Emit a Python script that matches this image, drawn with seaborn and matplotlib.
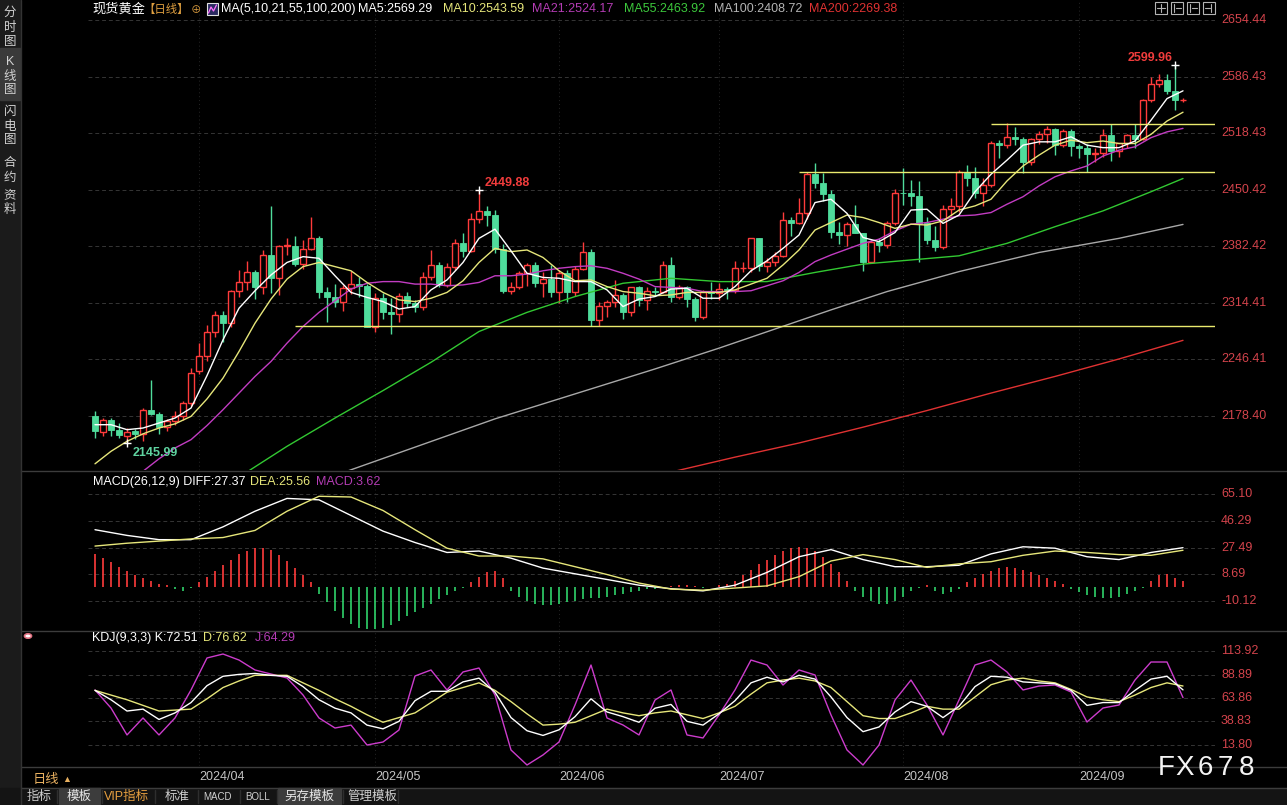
import pandas as pd
import matplotlib
matplotlib.use("Agg")
import matplotlib.pyplot as plt
import matplotlib.transforms as mtransforms
from matplotlib.patches import Rectangle, Circle
from matplotlib.lines import Line2D
import seaborn as sns

sns.set_theme(style="dark")
plt.rcParams['font.family'] = ['Liberation Sans', 'Noto Sans CJK SC', 'DejaVu Sans']
plt.rcParams['axes.unicode_minus'] = False

# ---------------------------------------------------------------- data
trade_dates = pd.bdate_range("2024-03-12", "2024-09-19").drop(pd.Timestamp("2024-03-29"))
month_labels = ["2024/04", "2024/05", "2024/06", "2024/07", "2024/08", "2024/09"]

opens = [2179, 2159, 2174, 2162, 2155, 2160, 2157, 2186, 2181, 2165,
         2172, 2178, 2194, 2233, 2251, 2280, 2300, 2290, 2329, 2339,
         2352, 2333, 2372, 2344, 2383, 2383, 2361, 2379, 2392, 2327,
         2322, 2316, 2332, 2337, 2335, 2286, 2320, 2303, 2301, 2323,
         2314, 2309, 2346, 2360, 2336, 2358, 2386, 2377, 2415, 2425,
         2420, 2379, 2329, 2334, 2350, 2360, 2338, 2343, 2327, 2350,
         2327, 2355, 2375, 2294, 2311, 2316, 2324, 2303, 2333, 2318,
         2329, 2328, 2360, 2321, 2334, 2319, 2298, 2327, 2326, 2331,
         2330, 2356, 2356, 2392, 2359, 2364, 2371, 2414, 2411, 2422,
         2469, 2459, 2445, 2400, 2396, 2409, 2398, 2364, 2387, 2384,
         2411, 2447, 2446, 2443, 2410, 2390, 2382, 2427, 2431, 2472,
         2465, 2447, 2456, 2507, 2504, 2514, 2512, 2484, 2512, 2518,
         2524, 2504, 2521, 2503, 2500, 2493, 2495, 2516, 2497, 2506,
         2516, 2512, 2558, 2578, 2582, 2569, 2558]
highs = [2184, 2176, 2176, 2170, 2164, 2163, 2188, 2222, 2183, 2175,
         2185, 2197, 2236, 2266, 2288, 2305, 2305, 2330, 2354, 2365,
         2354, 2378, 2431, 2384, 2392, 2395, 2390, 2418, 2395, 2333,
         2337, 2336, 2353, 2346, 2337, 2326, 2326, 2320, 2326, 2327,
         2318, 2351, 2378, 2364, 2362, 2391, 2398, 2422, 2449.88, 2431,
         2426, 2385, 2340, 2353, 2362, 2364, 2352, 2360, 2354, 2354,
         2359, 2388, 2379, 2315, 2318, 2342, 2326, 2333, 2335, 2333,
         2334, 2365, 2369, 2336, 2335, 2321, 2330, 2339, 2338, 2334,
         2365, 2364, 2393, 2393, 2368, 2375, 2424, 2418, 2440, 2472,
         2483, 2470, 2450, 2412, 2412, 2432, 2399, 2390, 2392, 2413,
         2451, 2477, 2462, 2461, 2418, 2407, 2432, 2440, 2474, 2480,
         2478, 2464, 2509, 2510, 2531, 2526, 2514, 2513, 2521, 2527,
         2525, 2524, 2523, 2505, 2505, 2500, 2523, 2529, 2507, 2518,
         2530, 2560, 2586, 2590, 2590, 2599.96, 2561]
lows = [2152, 2155, 2155, 2152, 2145.99, 2151, 2148, 2180, 2157, 2160,
        2168, 2174, 2190, 2229, 2244, 2273, 2267, 2286, 2321, 2330,
        2319, 2325, 2326, 2324, 2372, 2359, 2355, 2378, 2320, 2291,
        2309, 2305, 2325, 2322, 2285, 2280, 2295, 2277, 2291, 2310,
        2303, 2306, 2342, 2334, 2333, 2354, 2370, 2375, 2410, 2407,
        2374, 2326, 2325, 2331, 2335, 2333, 2322, 2322, 2314, 2315,
        2323, 2354, 2287, 2287, 2297, 2309, 2295, 2299, 2311, 2306,
        2323, 2326, 2316, 2319, 2309, 2293, 2295, 2319, 2318, 2319,
        2326, 2351, 2352, 2353, 2352, 2359, 2370, 2395, 2409, 2415,
        2453, 2437, 2393, 2385, 2383, 2398, 2353, 2363, 2376, 2380,
        2408, 2432, 2431, 2364, 2385, 2377, 2379, 2419, 2424, 2455,
        2440, 2431, 2454, 2488, 2500, 2504, 2470, 2480, 2505, 2506,
        2492, 2502, 2491, 2489, 2472, 2484, 2490, 2485, 2490, 2500,
        2500, 2510, 2556, 2574, 2566, 2546, 2556]
closes = [2160, 2174, 2162, 2156, 2159, 2157, 2186, 2181, 2165, 2172,
          2178, 2194, 2230, 2251, 2280, 2300, 2290, 2329, 2339, 2352,
          2333, 2372, 2344, 2383, 2383, 2361, 2379, 2392, 2327, 2322,
          2316, 2332, 2337, 2335, 2286, 2320, 2303, 2301, 2323, 2314,
          2309, 2346, 2360, 2336, 2358, 2386, 2377, 2415, 2425, 2420,
          2379, 2329, 2334, 2350, 2360, 2338, 2343, 2327, 2350, 2327,
          2355, 2375, 2294, 2311, 2316, 2324, 2303, 2333, 2318, 2329,
          2328, 2360, 2321, 2334, 2319, 2298, 2327, 2326, 2331, 2330,
          2356, 2356, 2392, 2359, 2364, 2371, 2414, 2411, 2422, 2469,
          2459, 2445, 2400, 2396, 2409, 2398, 2364, 2387, 2384, 2411,
          2447, 2446, 2443, 2410, 2390, 2382, 2427, 2431, 2472, 2465,
          2447, 2456, 2507, 2504, 2514, 2512, 2484, 2512, 2518, 2524,
          2504, 2521, 2503, 2500, 2493, 2495, 2516, 2497, 2506, 2516,
          2512, 2558, 2578, 2582, 2569, 2558, 2558]

ma_even_idx = list(range(0, 137, 2))
ma5 = [2168, 2168, 2162, 2164, 2170, 2176, 2188, 2227, 2270, 2308,
       2329, 2348, 2363, 2370, 2368, 2347, 2327, 2321, 2316, 2307,
       2310, 2330, 2342, 2363, 2392, 2403, 2377, 2350, 2345, 2344,
       2340, 2340, 2330, 2310, 2319, 2322, 2331, 2332, 2320, 2320,
       2334, 2353, 2365, 2380, 2396, 2435, 2439, 2422, 2393, 2388,
       2399, 2426, 2427, 2410, 2420, 2448, 2469, 2486, 2504, 2508,
       2508, 2514, 2504, 2501, 2501, 2509, 2534, 2560, 2569.29]
ma10 = [2121, 2136, 2148, 2157, 2164, 2169, 2178, 2199, 2224, 2256,
        2290, 2319, 2343, 2358, 2363, 2358, 2353, 2339, 2327, 2318,
        2316, 2320, 2327, 2341, 2363, 2380, 2376, 2378, 2369, 2353,
        2341, 2342, 2334, 2328, 2326, 2323, 2324, 2327, 2327, 2327,
        2330, 2337, 2344, 2360, 2378, 2402, 2411, 2420, 2417, 2411,
        2404, 2409, 2408, 2413, 2426, 2431, 2439, 2461, 2479, 2492,
        2504, 2510, 2507, 2509, 2506, 2506, 2517, 2533, 2543.59]
ma21_idx = list(range(6, 137, 2))
ma21 = [2112, 2127, 2140, 2150, 2167, 2186, 2206, 2226, 2244, 2266,
        2286, 2303, 2317, 2331, 2338, 2340, 2340, 2337, 2337, 2335,
        2336, 2339, 2347, 2347, 2349, 2353, 2356, 2358, 2359, 2356,
        2350, 2343, 2334, 2333, 2332, 2328, 2328, 2328, 2329, 2335,
        2341, 2351, 2364, 2372, 2379, 2386, 2391, 2401, 2409, 2411,
        2415, 2419, 2420, 2423, 2433, 2442, 2455, 2466, 2473, 2479,
        2491, 2498, 2502, 2513, 2520, 2524.17]
ma55_idx = [18, 24, 30, 36, 42, 48, 54, 60, 66, 72, 78, 84, 90, 96, 102, 108, 114, 120, 126, 132, 136]
ma55 = [2105, 2142, 2176, 2209, 2243, 2280, 2303, 2322, 2338, 2344, 2340,
        2340, 2351, 2361, 2366, 2371, 2386, 2406, 2425, 2448, 2463.92]
ma100_idx = [30, 40, 50, 60, 70, 78, 85, 92, 99, 108, 118, 128, 136]
ma100 = [2107, 2141, 2175, 2205, 2235, 2260, 2283, 2306, 2328, 2352, 2375, 2392, 2408.72]
ma200_idx = [72, 80, 88, 96, 104, 112, 120, 128, 136]
ma200 = [2111, 2129, 2146, 2165, 2185, 2206, 2226, 2247, 2269.38]

# hand-drawn horizontal levels
level_values = [2286.6, 2471.7, 2529.4]
level_start_idx = [25, 88, 112]

# MACD(26,12,9)
macd_idx = list(range(0, 137, 4))
diff = [40, 36, 33, 33, 42, 53, 62, 61, 50, 39, 31, 24, 25, 20, 13, 9, 5, 1,
        -1.5, -3, 1, 10, 21, 26, 19, 14, 14, 15, 23, 28, 27, 21, 19, 24, 27.37]
dea = [28.5, 30.5, 32, 33.5, 34.5, 39.5, 53, 63.5, 63, 53.5, 40, 27, 21.5, 21.5,
       19.5, 14, 8.5, 2.5, -1.75, -2.5, -1, 0.5, 7, 18, 22.5, 19, 13.5, 16, 17.5,
       22, 25, 24, 22.5, 22, 25.56]
macd_hist = [23, 20, 17, 14, 11, 8, 6, 4, 2, 1,
             -2, -3, -1, 3, 7, 11, 15, 19, 23, 25,
             27, 27, 26, 22, 18, 13, 8, 3, -5, -11,
             -17, -22, -26, -29, -30, -30, -29, -27, -24, -21,
             -18, -15, -12, -9, -6, -3, -1, 3, 7, 10,
             11, 6, -3, -7, -10, -12, -13, -13, -12, -11,
             -10, -9, -8, -8, -7, -6, -5, -4, -3, -2,
             -2, -1, 0.5, 1, 1, 0.5, -1, -0.5, 1, 2,
             4, 8, 12, 16, 19, 22, 25, 27, 28, 27,
             25, 21, 16, 10, 4, -3, -7, -10, -12, -12,
             -10, -7, -3, -1, 1, -3, -5, -4, -2, 3,
             6, 9, 11, 13, 14, 13, 12, 10, 8, 6,
             4, 2, -2, -4, -6, -7, -8, -8, -7, -5,
             -3, -1, 4, 8, 9, 6, 3.62]

# KDJ(9,3,3)
kdj_idx = list(range(0, 137, 2))
kdj_k = [72, 62, 50, 52, 41, 48, 59, 77, 87, 89, 90, 88, 87, 76, 62, 53, 48, 35, 31, 39,
         61, 71, 71, 81, 85, 70, 43, 29, 24, 30, 44, 63, 49, 44, 38, 53, 57, 39, 35, 47,
         61, 80, 86, 81, 88, 84, 65, 43, 28, 33, 49, 60, 55, 43, 55, 76, 87, 86, 81, 80,
         79, 72, 56, 59, 59, 72, 84, 87, 72.51]
kdj_d = [72, 67, 62, 56, 50, 51, 52, 63, 75, 82, 88, 88, 88, 80, 72, 63, 55, 46, 38, 43,
         48, 59, 70, 75, 80, 72, 60, 47, 35, 36, 38, 45, 52, 48, 45, 48, 50, 46, 42, 48,
         55, 68, 80, 83, 85, 82, 75, 60, 45, 42, 42, 48, 55, 52, 52, 65, 78, 83, 85, 82,
         80, 73, 65, 62, 60, 67, 75, 80, 76.62]
kdj_j = [72.4, 53.2, 24.5, 42.6, 24.5, 42.6, 72.4, 106.5, 110.7, 104.3, 93.7, 89.4, 85.2,
         67.1, 42.6, 31.9, 35.0, 13.8, 17.0, 29.8, 87.3, 93.7, 72.4, 91.6, 95.8, 67.1, 8.5,
         -7.5, 3.2, 17.0, 56.4, 99.0, 42.6, 35.1, 24.5, 61.7, 72.4, 24.5, 21.3, 45.8, 72.4,
         104.3, 99.0, 77.7, 93.7, 88.4, 45.8, 8.5, -7.5, 13.8, 61.7, 83.0, 56.4, 24.5, 61.7,
         99.0, 104.3, 91.6, 72.4, 76.6, 77.7, 70.3, 38.3, 53.2, 56.4, 83.0, 102.2, 102.2, 64.29]

price_ticks = [2654.44, 2586.43, 2518.43, 2450.42, 2382.42, 2314.41, 2246.41, 2178.40]
macd_ticks = [65.10, 46.29, 27.49, 8.69, -10.12]
kdj_ticks = [113.92, 88.89, 63.86, 38.83, 13.80]

# ---------------------------------------------------------------- style
BG = '#000000'
UP = '#ff3b3b'
DN = '#4fdc9c'
TICK_RED = '#d4444c'
C_MA5, C_MA10, C_MA21 = '#ffffff', '#e6e67a', '#c23cc2'
C_MA55, C_MA100, C_MA200 = '#32c832', '#a8a8a8', '#e03232'
C_LEVEL = '#eaea6e'
GRID = '#353535'

W, H = 1287, 805
fig = plt.figure(figsize=(W / 100, H / 100), dpi=100)
fig.patch.set_facecolor(BG)


def fx(x):
    return x / W


def fy(y):
    return 1 - y / H


def add_ax(x0, y0, x1, y1):
    ax = fig.add_axes([fx(x0), fy(y1), (x1 - x0) / W, (y1 - y0) / H])
    ax.set_facecolor(BG)
    for s in ax.spines.values():
        s.set_visible(False)
    ax.set_xticks([])
    ax.set_yticks([])
    ax.grid(False)
    return ax


def ftext(x, y, s, **kw):
    kw.setdefault('va', 'center')
    kw.setdefault('ha', 'left')
    return fig.text(fx(x), fy(y), s, **kw)


X_LO, X_HI = -0.875, 140.0
n = len(closes)
xs = list(range(n))
month_pos = [i for i in range(1, n) if trade_dates[i].month != trade_dates[i - 1].month]

ax_p = add_ax(88, 0, 1215, 470)
ax_m = add_ax(88, 472, 1215, 630)
ax_k = add_ax(88, 632, 1215, 766)
ax_p.set_ylim(2113.54, 2678.48)
ax_m.set_ylim(-30.51, 80.57)
ax_k.set_ylim(-8.57, 134.16)
for ax in (ax_p, ax_m, ax_k):
    ax.set_xlim(X_LO, X_HI)
    for mp in month_pos:
        ax.axvline(mp, color='#262626', lw=0.7, ls=(0, (1, 3)), zorder=0)


def right_labels(ax, ticks):
    tr = mtransforms.blended_transform_factory(fig.transFigure, ax.transData)
    for t in ticks:
        ax.axhline(t, color=GRID, lw=0.7, ls=(0, (4, 3)), zorder=0)
        ax.text(fx(1221), t, f"{t:.2f}", transform=tr, color=TICK_RED, fontsize=9,
                va='center', ha='left', clip_on=False)


right_labels(ax_p, price_ticks)
right_labels(ax_m, macd_ticks)
right_labels(ax_k, kdj_ticks)

# ---- candles
df = pd.DataFrame({'x': xs, 'open': opens, 'high': highs, 'low': lows, 'close': closes})
up = df[df.close >= df.open]
dn = df[df.close < df.open]
ax_p.vlines(up.x, up.low, up.high, color=UP, lw=1.0, zorder=2)
ax_p.bar(up.x, (up.close - up.open).clip(lower=0.5), bottom=up.open, width=0.7,
         facecolor=BG, edgecolor=UP, linewidth=1.0, zorder=3)
ax_p.vlines(dn.x, dn.low, dn.high, color=DN, lw=1.0, zorder=2)
ax_p.bar(dn.x, (dn.open - dn.close), bottom=dn.close, width=0.7,
         facecolor=DN, edgecolor=DN, linewidth=0.6, zorder=3)

# ---- moving averages
for ix, vals, col in [(ma200_idx, ma200, C_MA200), (ma100_idx, ma100, C_MA100),
                      (ma55_idx, ma55, C_MA55), (ma21_idx, ma21, C_MA21),
                      (ma_even_idx, ma10, C_MA10), (ma_even_idx, ma5, C_MA5)]:
    sns.lineplot(x=ix, y=vals, ax=ax_p, color=col, linewidth=1.0, legend=False, zorder=4)

# ---- levels
for lv, st in zip(level_values, level_start_idx):
    ax_p.hlines(lv, st, X_HI, color=C_LEVEL, lw=1.0, zorder=4)

# ---- extreme labels
i_hi = highs.index(max(highs))
i_lo = lows.index(min(lows))
i_mid = highs.index(max(highs[30:70]))
for i, v, dx, dy, col in [(i_hi, highs[i_hi], -18, 5, '#f03c3c'),
                          (i_mid, highs[i_mid], 20, 5, '#f03c3c'),
                          (i_lo, lows[i_lo], 20, -7, '#5fd3a0')]:
    ax_p.plot([i], [v], marker='+', color='white', ms=6, mew=1.0, zorder=6)
    ax_p.annotate(f"{v:.2f}", (i, v), xytext=(dx, dy), textcoords='offset points',
                  color=col, fontsize=9, fontweight='bold', ha='center', va='center', zorder=6)

# ---- MACD
hist_df = pd.DataFrame({'x': xs, 'h': macd_hist})
pos = hist_df[hist_df.h >= 0]
neg = hist_df[hist_df.h < 0]
ax_m.vlines(pos.x, 0, pos.h, color='#ff3c3c', lw=1.2)
ax_m.vlines(neg.x, 0, neg.h, color='#2fd36a', lw=1.2)
sns.lineplot(x=macd_idx, y=diff, ax=ax_m, color='#ffffff', linewidth=1.0, legend=False)
sns.lineplot(x=macd_idx, y=dea, ax=ax_m, color='#e6e67a', linewidth=1.0, legend=False)

# ---- KDJ
sns.lineplot(x=kdj_idx, y=kdj_j, ax=ax_k, color='#cc3ccc', linewidth=1.0, legend=False)
sns.lineplot(x=kdj_idx, y=kdj_d, ax=ax_k, color='#e6e67a', linewidth=1.0, legend=False)
sns.lineplot(x=kdj_idx, y=kdj_k, ax=ax_k, color='#ffffff', linewidth=1.0, legend=False)

for ax in (ax_p, ax_m, ax_k):
    ax.set_xlim(X_LO, X_HI)
    ax.set_xlabel('')
    ax.set_ylabel('')
    ax.set_xticks([])
    ax.set_yticks([])

# ---- panel separators
for yy in (471, 631, 766.5, 787.5):
    fig.add_artist(Line2D([fx(21), 1], [fy(yy), fy(yy)], color='#3c3c3c', lw=1))

# ---- left sidebar
fig.add_artist(Rectangle((0, fy(805)), fx(20), 1, color='#1b1b1b', zorder=0))
fig.add_artist(Rectangle((0, fy(100)), fx(20), 52 / H, color='#3a3a3a', zorder=0))
fig.add_artist(Line2D([fx(20.5), fx(20.5)], [0, 1], color='#333333', lw=1))
side = [("分", 13), ("时", 28), ("图", 42), ("K", 62), ("线", 77), ("图", 90),
        ("闪", 112), ("电", 127), ("图", 140), ("合", 163), ("约", 178), ("资", 195), ("料", 210)]
for ch, yy in side:
    ftext(10, yy, ch, ha='center', fontsize=9, color='#d2d2d2')

# ---- header
y_h = 9
ftext(92, y_h, "现货黄金", color='#ffffff', fontsize=9.5)
ftext(143, y_h, "【日线】", color='#e0a040', fontsize=8.2)
ftext(191, y_h + 1, "⊕", color='#e0a040', fontsize=7.5)
fig.add_artist(Rectangle((fx(207), fy(15)), 11 / W, 12 / H, facecolor='#2a2a60',
                         edgecolor='#e0e0e0', lw=0.8))
fig.add_artist(Line2D([fx(208.5), fx(211), fx(213.5), fx(216.5)], [fy(13), fy(7), fy(11), fy(5)],
                      color='#ff70ff', lw=0.9))
header = [(221, "MA(5,10,21,55,100,200)", '#ffffff'), (358, "MA5:2569.29", '#ffffff'),
          (443, "MA10:2543.59", C_MA10), (532, "MA21:2524.17", '#b43cb4'),
          (624, "MA55:2463.92", '#3cc83c'), (714, "MA100:2408.72", '#b4b4b4'),
          (809, "MA200:2269.38", '#e03232')]
for x, s, c in header:
    ftext(x, y_h, s, color=c, fontsize=9)

# top-right tool icons
for x0 in (1155, 1171, 1187, 1203):
    fig.add_artist(Rectangle((fx(x0), fy(14)), 12 / W, 12 / H, facecolor='none',
                             edgecolor='#b4b4b4', lw=0.8))
fig.add_artist(Line2D([fx(1157), fx(1165)], [fy(8), fy(8)], color='#b4b4b4', lw=0.8))
fig.add_artist(Line2D([fx(1161), fx(1161)], [fy(4), fy(12)], color='#b4b4b4', lw=0.8))
for x0 in (1174, 1190):
    fig.add_artist(Line2D([fx(x0), fx(x0)], [fy(4), fy(12)], color='#b4b4b4', lw=0.8))
    fig.add_artist(Line2D([fx(x0 + 2), fx(x0 + 7)], [fy(8), fy(8)], color='#b4b4b4', lw=0.8))
fig.add_artist(Line2D([fx(1211), fx(1211)], [fy(4), fy(12)], color='#b4b4b4', lw=0.8))
fig.add_artist(Line2D([fx(1205), fx(1210)], [fy(8), fy(8)], color='#b4b4b4', lw=0.8))

# ---- MACD / KDJ headers
ftext(93, 482, "MACD(26,12,9) DIFF:27.37", color='#ffffff', fontsize=9)
ftext(250, 482, "DEA:25.56", color='#e6e67a', fontsize=9)
ftext(316, 482, "MACD:3.62", color='#b43cb4', fontsize=9)
ftext(92, 638, "KDJ(9,3,3) K:72.51", color='#ffffff', fontsize=9)
ftext(203, 638, "D:76.62", color='#e6e67a', fontsize=9)
ftext(255, 638, "J:64.29", color='#b43cb4', fontsize=9)
fig.add_artist(Circle((fx(28), fy(636)), 3.5 / W, facecolor='#ffffff', edgecolor='#e07080',
                      lw=1.2, transform=fig.transFigure))

# ---- date axis
ftext(33, 780, "日线", color='#e8b060', fontsize=9.5)
ftext(62, 779, "▲", color='#e8b060', fontsize=6.5)
for mp, lab in zip(month_pos, month_labels):
    ftext(95 + 8 * mp, 777, lab, color='#c4c4c4', fontsize=9)
for ch, xc in zip("FX678", (1166, 1185, 1205, 1225, 1247)):
    ftext(xc, 768, ch, ha='center', color='#f4f4f4', fontsize=20)

# ---- bottom toolbar
fig.add_artist(Rectangle((0, 0), 1, fy(788), color='#141414', zorder=0))
fig.add_artist(Rectangle((fx(59), fy(804)), 41 / W, 16 / H, color='#3c3c3c', zorder=0))
fig.add_artist(Rectangle((fx(278), fy(804)), 63 / W, 16 / H, color='#3c3c3c', zorder=0))
for xs_ in (57, 102, 155, 198, 240, 277, 343, 398):
    fig.add_artist(Line2D([fx(xs_), fx(xs_)], [fy(803), fy(790)], color='#2e2e2e', lw=1))
tools = [(39, "指标", '#cfcfcf', 9), (79, "模板", '#e6e6e6', 9), (127, "VIP指标", '#e8a040', 9),
         (177, "标准", '#cfcfcf', 9), (217, "MACD", '#cfcfcf', 7), (258, "BOLL", '#cfcfcf', 7),
         (309, "另存模板", '#e6e6e6', 9), (372, "管理模板", '#cfcfcf', 9)]
for xc, s, c, fs in tools:
    ftext(xc, 797, s, ha='center', color=c, fontsize=fs)

fig.savefig("out.png", dpi=100, facecolor=BG)
